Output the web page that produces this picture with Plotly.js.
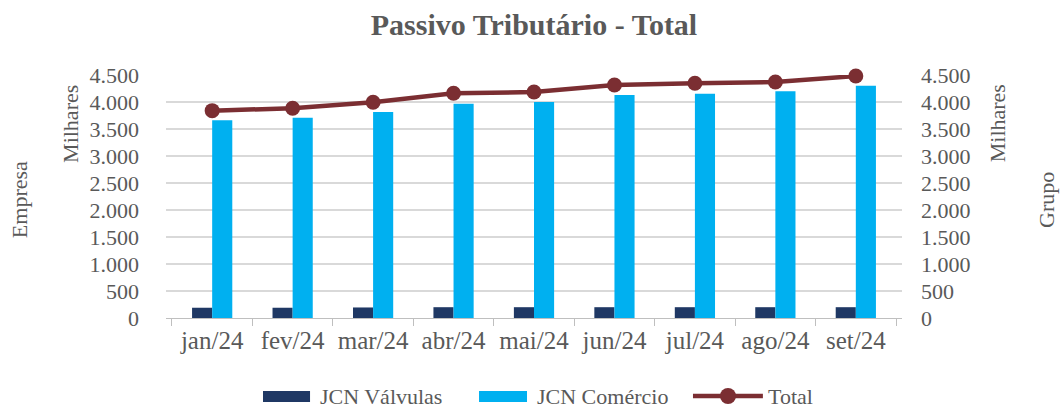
<!DOCTYPE html>
<html>
<head>
<meta charset="utf-8">
<script src="https://cdn.plot.ly/plotly-3.0.1.min.js"></script>
<style>html,body{margin:0;padding:0;background:#fff;}#chart{width:1061px;height:408px;}</style>
</head>
<body>
<div id="chart"></div>
<script>
const months = ["jan/24","fev/24","mar/24","abr/24","mai/24","jun/24","jul/24","ago/24","set/24"];
const jcnValvulas = [190, 190, 195, 200, 200, 200, 200, 200, 200];
const jcnComercio = [3662, 3710, 3815, 3969, 4000, 4130, 4155, 4198, 4302];
const total = [3840, 3884, 3995, 4161, 4185, 4315, 4346, 4370, 4481];
const yTicks = [0, 500, 1000, 1500, 2000, 2500, 3000, 3500, 4000, 4500];
const yTickText = ["0","500","1.000","1.500","2.000","2.500","3.000","3.500","4.000","4.500"];
const seriesNames = ["JCN Válvulas", "JCN Comércio", "Total"];

const FONT = "Liberation Serif";
const GRAY = "#595959";
const C_VAL = "#1F3864", C_COM = "#00B0F0", C_TOT = "#7B2E32";

const traces = [
  {type:"bar", name:seriesNames[0], x:months, y:jcnValvulas, marker:{color:C_VAL}, yaxis:"y"},
  {type:"bar", name:seriesNames[1], x:months, y:jcnComercio, marker:{color:C_COM}, yaxis:"y"},
  {type:"scatter", mode:"lines+markers", name:seriesNames[2], x:months, y:total, yaxis:"y2", cliponaxis:false,
   line:{color:C_TOT, width:4.5}, marker:{color:C_TOT, size:15}}
];

// Custom legend (paper coordinates) drawn below the plot
const LY = -0.321;
const legendShapes = [
  {type:"rect", xref:"paper", yref:"paper", x0:0.1318, x1:0.1957, y0:-0.3457, y1:-0.3004, fillcolor:C_VAL, line:{width:0}},
  {type:"rect", xref:"paper", yref:"paper", x0:0.4253, x1:0.4905, y0:-0.3457, y1:-0.3004, fillcolor:C_COM, line:{width:0}},
  {type:"line", xref:"paper", yref:"paper", x0:0.716, x1:0.811, y0:LY, y1:LY, line:{color:C_TOT, width:4.5}},
  {type:"circle", xref:"paper", yref:"paper", xsizemode:"pixel", ysizemode:"pixel", xanchor:0.7636, yanchor:LY,
   x0:-8, x1:8, y0:-8, y1:8, fillcolor:C_TOT, line:{width:0}}
];
const legendText = [
  {text:seriesNames[0], x:0.2065, y:LY},
  {text:seriesNames[1], x:0.5014, y:LY},
  {text:seriesNames[2], x:0.8150, y:LY}
].map(a => ({text:a.text, xref:"paper", yref:"paper", x:a.x, y:a.y, xanchor:"left", yanchor:"middle",
            showarrow:false, font:{family:FONT, size:22, color:GRAY}}));

const layout = {
  width:1061, height:408,
  margin:{l:166, r:159, t:75, b:90},
  paper_bgcolor:"#fff", plot_bgcolor:"#fff",
  font:{family:FONT, color:GRAY, size:20},
  title:{text:"<b>Passivo Tributário - Total</b>", x:0.5, xanchor:"center", xref:"paper", y:0.94, yanchor:"middle",
         font:{family:FONT, size:30, color:GRAY}},
  barmode:"group", bargap:0.5, bargroupgap:0,
  showlegend:false,
  xaxis:{type:"category", showline:true, linecolor:"#bfbfbf", linewidth:1,
         ticks:"outside", tickson:"boundaries", ticklen:7, tickcolor:"#bfbfbf",
         tickfont:{family:FONT, size:25, color:GRAY}, showgrid:false},
  yaxis:{range:[0,4500], tickvals:yTicks, ticktext:yTickText, showgrid:true, gridcolor:"#d9d9d9", gridwidth:1.5,
         zeroline:false, showline:false, ticks:"", ticklabelstandoff:26,
         tickfont:{family:FONT, size:22, color:GRAY}},
  yaxis2:{range:[0,4500], tickvals:yTicks, ticktext:yTickText, overlaying:"y", side:"right",
          showgrid:false, zeroline:false, showline:false, ticks:"", ticklabelstandoff:18,
          tickfont:{family:FONT, size:22, color:GRAY}},
  shapes:legendShapes,
  annotations:[
    {text:"Empresa", textangle:-90, xref:"paper", yref:"paper", x:-0.198, y:0.486, xanchor:"center", yanchor:"middle", showarrow:false, font:{family:FONT, size:22, color:GRAY}},
    {text:"Milhares", textangle:-90, xref:"paper", yref:"paper", x:-0.130, y:0.80, xanchor:"center", yanchor:"middle", showarrow:false, font:{family:FONT, size:22, color:GRAY}},
    {text:"Milhares", textangle:-90, xref:"paper", yref:"paper", x:1.130, y:0.80, xanchor:"center", yanchor:"middle", showarrow:false, font:{family:FONT, size:22, color:GRAY}},
    {text:"Grupo", textangle:-90, xref:"paper", yref:"paper", x:1.197, y:0.486, xanchor:"center", yanchor:"middle", showarrow:false, font:{family:FONT, size:22, color:GRAY}}
  ].concat(legendText)
};
Plotly.newPlot("chart", traces, layout, {displayModeBar:false, staticPlot:true});
</script>
</body>
</html>
